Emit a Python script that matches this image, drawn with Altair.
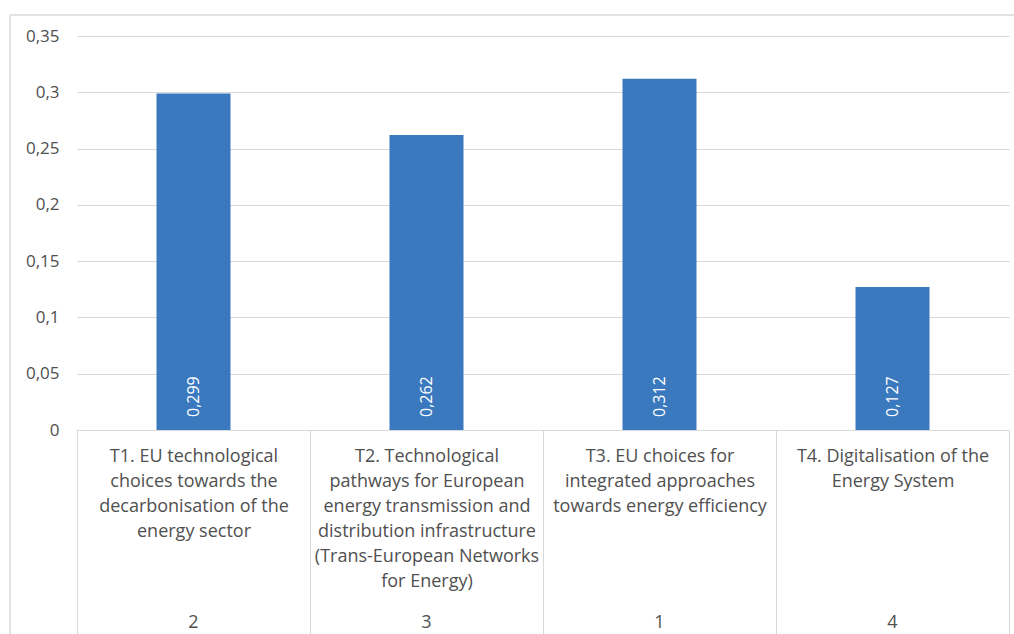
import altair as alt
import pandas as pd

# Topics (label lines), their rank and score
topic_lines = [
    ["T1. EU technological", "choices towards the", "decarbonisation of the", "energy sector"],
    ["T2. Technological", "pathways for European", "energy transmission and",
     "distribution infrastructure", "(Trans-European Networks", "for Energy)"],
    ["T3. EU choices for", "integrated approaches", "towards energy efficiency"],
    ["T4. Digitalisation of the", "Energy System"],
]
ranks = ["2", "3", "1", "4"]
scores = [0.299, 0.262, 0.312, 0.127]
score_labels = ["0,299", "0,262", "0,312", "0,127"]
y_ticks = [0, 0.05, 0.1, 0.15, 0.2, 0.25, 0.3, 0.35]

FONT = "Open Sans"
GREY_TEXT = "#505050"
GREY_LINE = "#d9d9d9"
BLUE = "#3b79bf"

df = pd.DataFrame({
    "key": [r + "|" + "|".join(lines) for r, lines in zip(ranks, topic_lines)],
    "score": scores,
    "label": score_labels,
})
order = list(df["key"])

x_scale = alt.Scale(domain=order, paddingInner=0, paddingOuter=0)

bars = alt.Chart(df).mark_bar(size=74, color=BLUE).encode(
    x=alt.X("key:N", sort=order, scale=x_scale, title=None,
            axis=alt.Axis(
                orient="bottom",
                labelExpr="slice(split(datum.label, '|'), 1)",
                labelAngle=0, labelBaseline="top", labelAlign="center",
                labelPadding=-198, labelLineHeight=25, labelLimit=0,
                labelOverlap=False, labelFont=FONT, labelFontSize=18,
                labelFontWeight=500, labelColor=GREY_TEXT,
                ticks=True, tickBand="extent", tickSize=215, tickColor=GREY_LINE,
                domain=True, domainColor=GREY_LINE, grid=False)),
    y=alt.Y("score:Q", scale=alt.Scale(domain=[0, 0.35], nice=False), title=None,
            axis=alt.Axis(values=y_ticks,
                          labelExpr="replace(format(datum.value, ''), '.', ',')",
                          labelFont=FONT, labelFontSize=17, labelFontWeight=500,
                          labelColor=GREY_TEXT,
                          labelPadding=18, ticks=False, domain=False,
                          grid=True, gridColor=GREY_LINE)),
)

values = alt.Chart(df).mark_text(
    angle=270, align="left", baseline="middle", dx=13,
    color="white", font=FONT, fontSize=16,
).encode(
    x=alt.X("key:N", sort=order, scale=x_scale, title=None,
            axis=alt.Axis(
                orient="bottom",
                labelExpr="split(datum.label, '|')[0]",
                labelAngle=0, labelBaseline="middle", labelAlign="center",
                labelPadding=192, labelLimit=0, labelOverlap=False,
                labelFont=FONT, labelFontSize=18, labelFontWeight=500,
                labelColor=GREY_TEXT,
                ticks=False, domain=False, grid=False)),
    y=alt.datum(0),
    text="label:N",
)

frame_src = pd.DataFrame({"k": [0]})
frame_left = alt.Chart(frame_src).mark_rule(color=GREY_LINE, strokeWidth=1.5).encode(
    x=alt.value(-67), y=alt.value(-21), y2=alt.value(700))
frame_top = alt.Chart(frame_src).mark_rule(color=GREY_LINE, strokeWidth=1.5).encode(
    x=alt.value(-67), x2=alt.value(1100), y=alt.value(-21))

chart = alt.layer(frame_left, frame_top, bars, values).resolve_axis(
    x="independent"
).properties(
    width=932, height=394,
    autosize=alt.AutoSizeParams(type="none"),
    padding={"left": 77, "top": 36, "right": 5, "bottom": 204},
    background="white",
).configure_view(stroke=None)

chart.save("out.html", embed_options={"renderer": "svg", "actions": False})
